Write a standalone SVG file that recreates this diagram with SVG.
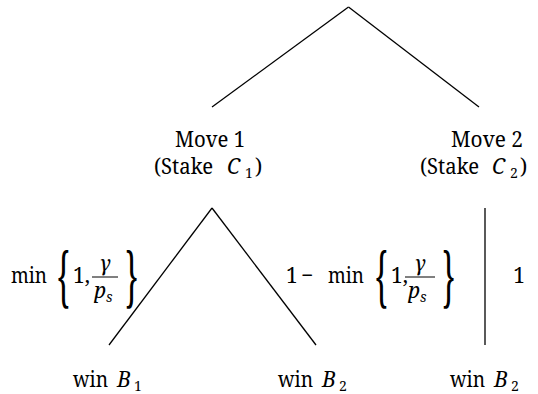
<svg xmlns="http://www.w3.org/2000/svg" width="538" height="394" viewBox="0 0 538 394" font-family="'Noto Serif', 'DejaVu Serif', serif">
<style>
text{font-family:'Noto Serif','DejaVu Serif',serif;font-size:21px;fill:#000}
.i{font-style:italic}
.sub{font-size:14px}
.brace{font-size:66px}
.m{text-anchor:middle}
line{stroke:#000;stroke-width:1.3}
.bar{stroke-width:1}
</style>
<rect width="538" height="394" fill="#fff"/>
<g id="connectors">
<line x1="348.5" y1="7" x2="212" y2="107"/>
<line x1="348.5" y1="7" x2="479" y2="107"/>
<line x1="212" y1="208" x2="109" y2="345"/>
<line x1="212" y1="208" x2="316" y2="345"/>
<line x1="485" y1="208" x2="485" y2="345"/>
</g>
<g id="move1">
<text x="175" y="147" textLength="70" lengthAdjust="spacingAndGlyphs">Move 1</text>
<text x="154" y="174" textLength="59" lengthAdjust="spacingAndGlyphs">(Stake</text>
<text class="i" x="227" y="174">C</text>
<text class="sub" x="245" y="178">1</text>
<text x="255" y="174">)</text>
</g>
<g id="move2">
<text x="451" y="147" textLength="72" lengthAdjust="spacingAndGlyphs">Move 2</text>
<text x="420" y="174" textLength="59" lengthAdjust="spacingAndGlyphs">(Stake</text>
<text class="i" x="492" y="174">C</text>
<text class="sub" x="510" y="178">2</text>
<text x="520" y="174">)</text>
</g>
<g id="label-left">
<text x="11" y="283" textLength="36" lengthAdjust="spacingAndGlyphs">min</text>
<text class="brace" transform="translate(57,300) scale(0.45,1)">{</text>
<text x="73" y="283">1,</text>
<text class="i m" x="105" y="271">γ</text>
<line class="bar" x1="92" y1="277" x2="118" y2="277"/>
<text class="i" x="94" y="298">p</text>
<text class="i sub" x="106" y="302">s</text>
<text class="brace" transform="translate(138,300) scale(-0.45,1)">{</text>
</g>
<g id="label-mid">
<text x="286" y="283">1</text>
<text x="301" y="283">−</text>
<text x="328" y="283" textLength="36" lengthAdjust="spacingAndGlyphs">min</text>
<text class="brace" transform="translate(375,300) scale(0.45,1)">{</text>
<text x="391" y="283">1,</text>
<text class="i m" x="420" y="271">γ</text>
<line class="bar" x1="405" y1="277" x2="435" y2="277"/>
<text class="i" x="408" y="298">p</text>
<text class="i sub" x="420" y="302">s</text>
<text class="brace" transform="translate(455,300) scale(-0.45,1)">{</text>
</g>
<g id="label-right">
<text class="m" x="519" y="283">1</text>
</g>
<g id="leaf1">
<text x="73" y="387" textLength="35" lengthAdjust="spacingAndGlyphs">win</text>
<text class="i" x="117" y="387">B</text>
<text class="sub" x="134" y="391">1</text>
</g>
<g id="leaf2">
<text x="278" y="387" textLength="35" lengthAdjust="spacingAndGlyphs">win</text>
<text class="i" x="322" y="387">B</text>
<text class="sub" x="339" y="391">2</text>
</g>
<g id="leaf3">
<text x="450" y="387" textLength="35" lengthAdjust="spacingAndGlyphs">win</text>
<text class="i" x="494" y="387">B</text>
<text class="sub" x="511" y="391">2</text>
</g>
</svg>
